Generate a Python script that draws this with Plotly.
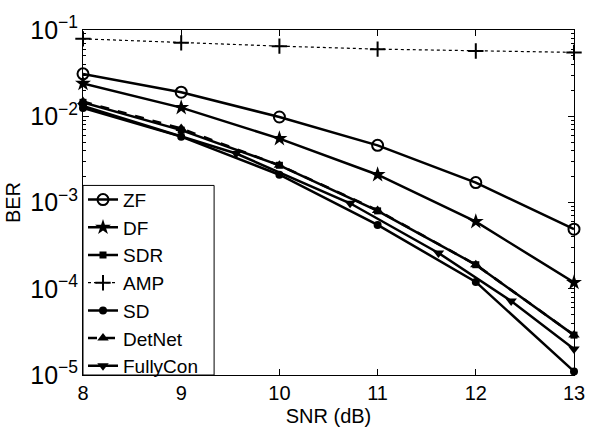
import plotly.graph_objects as go

# BER vs SNR for the detectors
snr = [8, 9, 10, 11, 12, 13]
ber_zf = [0.031, 0.0190, 0.0098, 0.0046, 0.0017, 0.00049]
ber_df = [0.024, 0.0126, 0.0055, 0.0021, 0.00060, 0.000118]
ber_sdr = [0.0145, 0.0069, 0.0027, 0.00080, 0.00019, 2.9e-5]
ber_amp = [0.079, 0.071, 0.065, 0.060, 0.057, 0.055]
ber_sd = [0.0125, 0.0058, 0.0021, 0.00055, 0.00012, 1.1e-5]
ber_detnet = [0.0148, 0.0072, 0.0027, 0.00081, 0.00019, 2.9e-5]
snr_fullycon = [8, 9.56, 10.72, 11.62, 12.36, 13]
ber_fullycon = [0.0132, 0.0037, 0.00098, 0.00026, 7.2e-5, 2.0e-5]

FONT = "Liberation Sans, Arial, Helvetica, sans-serif"
LW = 2.5

series = [
    ("ZF", snr, ber_zf, "circle-open", 11, "solid", LW),
    ("DF", snr, ber_df, "star", 12, "solid", LW),
    ("SDR", snr, ber_sdr, "square", 7, "solid", LW),
    ("AMP", snr, ber_amp, "cross-thin-open", 11, "dot", 1.2),
    ("SD", snr, ber_sd, "circle", 8, "solid", LW),
    ("DetNet", snr, ber_detnet, "triangle-up", 10, "dash", LW),
    ("FullyCon", snr_fullycon, ber_fullycon, "triangle-down", 10, "solid", LW),
]

fig = go.Figure()
for name, xs, ys, sym, size, dash, lw in series:
    mline = dict(color="black", width=2 if sym in ("circle-open", "cross-thin-open") else 0)
    fig.add_trace(go.Scatter(
        x=xs, y=ys, name=name, mode="lines+markers",
        line=dict(color="black", width=lw, dash=dash),
        marker=dict(symbol=sym, size=size, color="black", line=mline),
        cliponaxis=False,
    ))

# invisible companion trace so the right-hand log axis (minor ticks) is drawn
fig.add_trace(go.Scatter(x=snr, y=ber_zf, yaxis="y2", mode="lines",
                         line=dict(width=0), opacity=0, showlegend=False,
                         hoverinfo="skip"))

axis_common = dict(
    showline=True, linecolor="black", linewidth=1, mirror="ticks",
    ticks="inside", tickcolor="black", ticklen=6, showgrid=False, zeroline=False,
    tickfont=dict(family=FONT, size=20, color="black"),
)

fig.update_layout(
    width=597, height=435,
    margin=dict(l=77, r=14, t=22, b=49),
    paper_bgcolor="white", plot_bgcolor="white",
    font=dict(family=FONT, size=20, color="black"),
    xaxis=dict(range=[8, 13], dtick=1,
               title=dict(text="SNR (dB)", font=dict(family=FONT, size=20), standoff=5),
               **axis_common),
    yaxis=dict(type="log", range=[-5, -1], dtick=1, exponentformat="power",
               title=dict(text="BER", font=dict(family=FONT, size=20), standoff=4),
               minor=dict(ticks="inside", ticklen=3, tickcolor="black", showgrid=False),
               **axis_common),
    yaxis2=dict(type="log", range=[-5, -1], dtick=1, overlaying="y", side="right",
                anchor="x", showline=False, showgrid=False, zeroline=False,
                showticklabels=False, ticks="inside", ticklen=6, tickcolor="black",
                minor=dict(ticks="inside", ticklen=3, tickcolor="black", showgrid=False)),
    legend=dict(x=0, y=0.563, xanchor="left", yanchor="top",
                bgcolor="rgba(0,0,0,0)", borderwidth=0,
                font=dict(family=FONT, size=19, color="black"),
                itemwidth=30, tracegroupgap=0),
    shapes=[dict(type="rect", xref="paper", yref="paper",
                 x0=0, x1=0.267, y0=0, y1=0.5495,
                 line=dict(color="black", width=1), fillcolor="white", layer="above")],
    showlegend=True,
)

fig.write_html("out.html")
